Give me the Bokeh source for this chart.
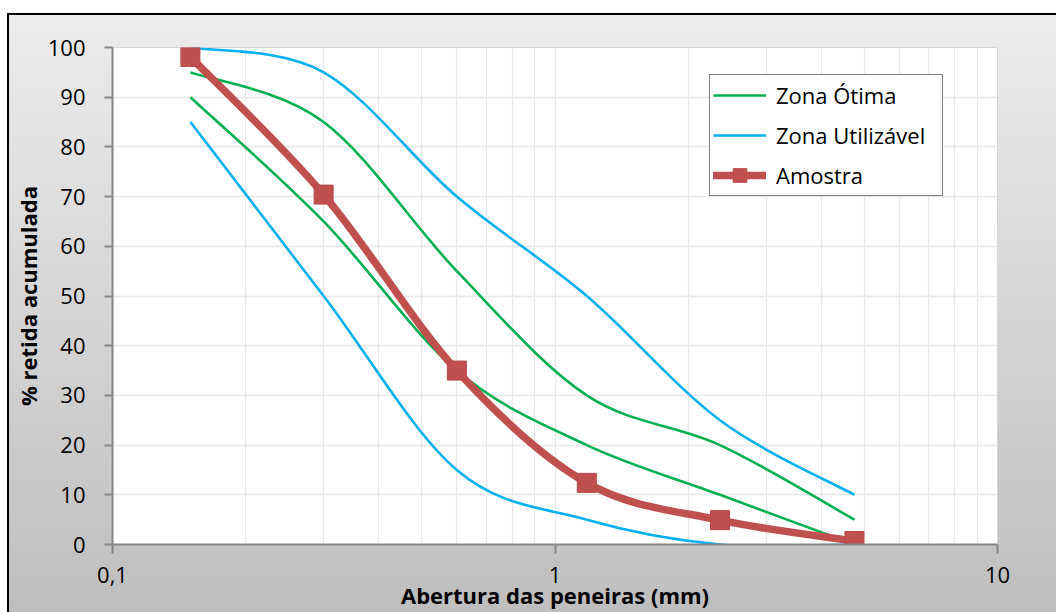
import numpy as np
from bokeh.plotting import figure
from bokeh.models import (ColumnDataSource, FixedTicker, Legend, LegendItem, Label)
from bokeh.embed import file_html
from bokeh.resources import INLINE

# Sieve openings (mm) and cumulative retained percentages
sieves = [0.15, 0.3, 0.6, 1.18, 2.36, 4.75]
otima_inf = [90, 65, 35, 20, 10, 0]
otima_sup = [95, 85, 55, 30, 20, 5]
util_inf = [85, 50, 15, 5, 0, 0]
util_sup = [100, 95, 70, 50, 25, 10]
amostra = [98.1, 70.4, 35.0, 12.4, 4.9, 0.7]

x_ticks = [0.1, 1, 10]
x_tick_labels = ["0,1", "1", "10"]
y_ticks = list(range(0, 101, 10))

GREEN = "#00B050"
BLUE = "#00B0F0"
RED = "#C0504D"
FONT = "Open Sans"


def smooth_segments(xs, ys):
    """Cubic Bezier pieces through the points (Catmull-Rom tangents, log-x space)."""
    lx = np.log10(np.asarray(xs, float))
    y = np.asarray(ys, float)
    n = len(lx)
    seg = {k: [] for k in ("x0", "y0", "x1", "y1", "cx0", "cy0", "cx1", "cy1")}
    for i in range(n - 1):
        a = max(i - 1, 0)
        b = min(i + 2, n - 1)
        seg["x0"].append(10 ** lx[i])
        seg["y0"].append(y[i])
        seg["x1"].append(10 ** lx[i + 1])
        seg["y1"].append(y[i + 1])
        seg["cx0"].append(10 ** (lx[i] + (lx[i + 1] - lx[a]) / 6))
        seg["cy0"].append(y[i] + (y[i + 1] - y[a]) / 6)
        seg["cx1"].append(10 ** (lx[i + 1] - (lx[b] - lx[i]) / 6))
        seg["cy1"].append(y[i + 1] - (y[b] - y[i]) / 6)
    return ColumnDataSource(seg)


p = figure(width=1056, height=612, x_axis_type="log", x_range=(0.1, 10), y_range=(0, 100),
           output_backend="svg", toolbar_location=None,
           min_border_left=112, min_border_right=59, min_border_top=47, min_border_bottom=68,
           background_fill_color="white", border_fill_color=None)

# grey chart-area gradient with a black frame line on top and left
p.styles = {
    "background": (
        "linear-gradient(#000,#000) 7px 13px / 100% 2px no-repeat, "
        "linear-gradient(#000,#000) 7px 13px / 2px 100% no-repeat, "
        "linear-gradient(to bottom, #ececec, #bdbdbd) 7px 13px / 100% 100% no-repeat, "
        "#ffffff"
    )
}
p.outline_line_color = "#d6d6d6"

# grids
p.ygrid.ticker = FixedTicker(ticks=y_ticks)
p.ygrid.grid_line_color = "#e8e8e8"
p.ygrid.grid_line_width = 1.3
p.xgrid.ticker = FixedTicker(ticks=[m * 10.0 ** e for e in (-1, 0) for m in range(2, 10)] + [1])
p.xgrid.grid_line_color = "#e8e8e8"
p.xgrid.grid_line_width = 1.3

# axes
for ax in (p.xaxis[0], p.yaxis[0]):
    ax.axis_line_color = "#868686"
    ax.axis_line_width = 2
    ax.major_tick_line_color = "#868686"
    ax.major_tick_line_width = 2
    ax.major_tick_in = 0
    ax.minor_tick_in = 0
    ax.minor_tick_out = 0
    ax.major_label_text_font = FONT
    ax.major_label_text_font_size = "22px"
    ax.major_label_text_color = "black"
    ax.axis_label_text_font = FONT
    ax.axis_label_text_font_size = "22px"
    ax.axis_label_text_font_style = "bold"
    ax.axis_label_text_color = "black"

p.xaxis.ticker = FixedTicker(ticks=x_ticks, minor_ticks=[])
p.xaxis.major_label_overrides = dict(zip(x_ticks, x_tick_labels))
p.xaxis.major_tick_out = 9
p.xaxis.major_label_standoff = 13
p.xaxis.axis_label = "Abertura das peneiras (mm)"
p.xaxis.axis_label_standoff = -6

p.yaxis.ticker = FixedTicker(ticks=y_ticks, minor_ticks=[])
p.yaxis.major_tick_out = 8
p.yaxis.major_label_standoff = 19
p.yaxis.axis_label = "% retida acumulada"
p.yaxis.axis_label_standoff = 2

# limit curves and sample curve
curves = []
for data, color in ((otima_inf, GREEN), (otima_sup, GREEN), (util_inf, BLUE), (util_sup, BLUE)):
    curves.append(p.bezier(x0="x0", y0="y0", x1="x1", y1="y1", cx0="cx0", cy0="cy0",
                           cx1="cx1", cy1="cy1", source=smooth_segments(sieves, data),
                           line_color=color, line_width=2.6))

red_curve = p.bezier(x0="x0", y0="y0", x1="x1", y1="y1", cx0="cx0", cy0="cy0", cx1="cx1",
                     cy1="cy1", source=smooth_segments(sieves, amostra), line_color=RED,
                     line_width=7.5, line_cap="round")
red_marks = p.scatter(sieves, amostra, marker="square", size=19, fill_color=RED,
                      line_color="#B9474A", line_width=1)

legend = Legend(items=[LegendItem(label="Zona Ótima", renderers=[curves[0]], index=0),
                       LegendItem(label="Zona Utilizável", renderers=[curves[2]], index=0),
                       LegendItem(label="Amostra", renderers=[red_curve, red_marks], index=0)],
                location=(597, 348), margin=0, padding=3, spacing=6,
                glyph_width=53, glyph_height=34, label_standoff=10, label_width=163,
                label_text_font=FONT, label_text_font_size="22px", label_text_color="black",
                border_line_color="black", border_line_width=1.5,
                background_fill_color="white", background_fill_alpha=1)
p.add_layout(legend)

# caption above the chart area
p.add_layout(Label(x=423, y=543, x_units="screen", y_units="screen",
                   text="Figura 10 – Distribuição granulométrica do agregado miúdo",
                   text_align="center", text_baseline="alphabetic",
                   text_font="Liberation Serif", text_font_size="26px", text_color="black"))

open("out.html", "w").write(file_html(p, INLINE))
